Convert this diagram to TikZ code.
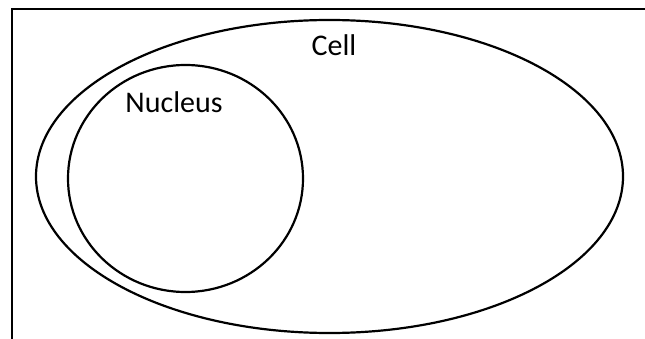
\documentclass[tikz,border=0pt]{standalone}
\usepackage{fontspec}
\setmainfont{Carlito}
\usetikzlibrary{shapes.geometric}
\begin{document}
\begin{tikzpicture}[x=1pt,y=-1pt,
  outline/.style={draw=black,line width=2.2pt},
  lbl/.style={font=\fontsize{30}{36}\selectfont,inner sep=0pt,anchor=base}]
\useasboundingbox (0,0) rectangle (645,339);
\fill[white] (0,0) rectangle (645,339);
\coordinate (fa) at (12,339);
\coordinate (fb) at (12,9);
\coordinate (fc) at (645,9);
\draw[outline] (fa) -- (fb) -- (fc);
\node[outline,ellipse,minimum width=587pt,minimum height=313pt,inner sep=0pt] (cell) at (329.5,176.5) {};
\node[outline,ellipse,minimum width=235pt,minimum height=227pt,inner sep=0pt] (nucleus) at (185.5,178.5) {};
\node[lbl] (celllbl) at (334,56) {Cell};
\node[lbl] (nuclbl) at (174,112.5) {Nucleus};
\end{tikzpicture}
\end{document}
